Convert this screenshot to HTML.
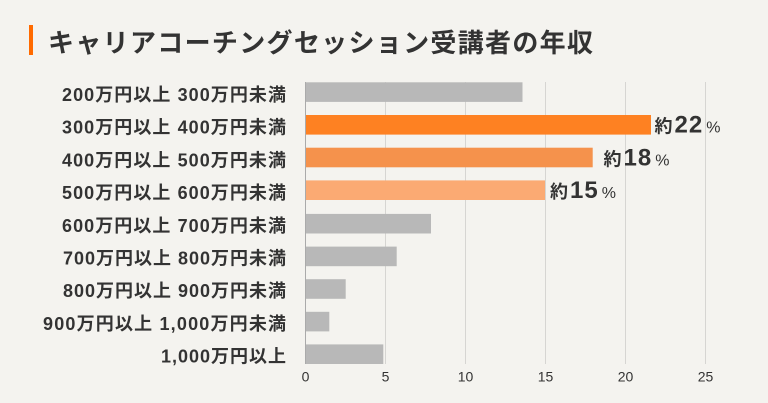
<!DOCTYPE html>
<html><head><meta charset="utf-8"><style>
html,body{margin:0;padding:0;background:#f4f3ef;}
svg{display:block;}
text{font-family:"Liberation Sans","Noto Sans CJK JP",sans-serif;}
</style></head><body>
<svg width="768" height="403" viewBox="0 0 768 403" xmlns="http://www.w3.org/2000/svg">
<rect width="768" height="403" fill="#f4f3ef"/>
<rect x="29" y="25" width="4" height="30" fill="#ff6a00"/>
<text x="48" y="52" font-size="26" font-weight="bold" fill="#333" textLength="545" lengthAdjust="spacing">キャリアコーチングセッション受講者の年収</text>
<g stroke="#d6d5d2" stroke-width="1">
<line x1="385.5" y1="82" x2="385.5" y2="364"/>
<line x1="465.5" y1="82" x2="465.5" y2="364"/>
<line x1="545.5" y1="82" x2="545.5" y2="364"/>
<line x1="625.5" y1="82" x2="625.5" y2="364"/>
<line x1="705.5" y1="82" x2="705.5" y2="364"/>
</g>
<g>
<rect x="305.5" y="82.3" width="217" height="19.6" fill="#b8b8b8"/>
<rect x="305.5" y="115" width="345.5" height="19.6" fill="#fe8122"/>
<rect x="305.5" y="147.7" width="287.2" height="19.6" fill="#f5924c"/>
<rect x="305.5" y="180.4" width="239.5" height="19.6" fill="#fbaa73"/>
<rect x="305.5" y="213.9" width="125.5" height="19.6" fill="#b8b8b8"/>
<rect x="305.5" y="246.6" width="91.2" height="19.6" fill="#b8b8b8"/>
<rect x="305.5" y="279.2" width="40.2" height="19.6" fill="#b8b8b8"/>
<rect x="305.5" y="311.8" width="23.8" height="19.6" fill="#b8b8b8"/>
<rect x="305.5" y="344.4" width="77.8" height="19.6" fill="#b8b8b8"/>
</g>
<line x1="305.5" y1="82" x2="305.5" y2="364" stroke="#aaa" stroke-width="1"/>
<g font-size="18" font-weight="bold" fill="#333" text-anchor="end">
<text x="286" y="101" textLength="224" lengthAdjust="spacing">200万円以上 300万円未満</text>
<text x="286" y="133.7" textLength="224" lengthAdjust="spacing">300万円以上 400万円未満</text>
<text x="286" y="166.4" textLength="224" lengthAdjust="spacing">400万円以上 500万円未満</text>
<text x="286" y="199.1" textLength="224" lengthAdjust="spacing">500万円以上 600万円未満</text>
<text x="286" y="231.8" textLength="224" lengthAdjust="spacing">600万円以上 700万円未満</text>
<text x="286" y="264.5" textLength="223" lengthAdjust="spacing">700万円以上 800万円未満</text>
<text x="286" y="297.2" textLength="223" lengthAdjust="spacing">800万円以上 900万円未満</text>
<text x="286" y="329.9" textLength="243" lengthAdjust="spacing">900万円以上 1,000万円未満</text>
<text x="286" y="362.6" textLength="125" lengthAdjust="spacing">1,000万円以上</text>
</g>
<g fill="#333" font-weight="bold">
<text x="654.5" y="132.7"><tspan font-size="18">約</tspan><tspan font-size="24" dx="2" letter-spacing="1">22</tspan><tspan font-size="16" font-weight="normal" dx="3">%</tspan></text>
<text x="603.5" y="165.4"><tspan font-size="18">約</tspan><tspan font-size="24" dx="2" letter-spacing="1">18</tspan><tspan font-size="16" font-weight="normal" dx="3">%</tspan></text>
<text x="550" y="198.1"><tspan font-size="18">約</tspan><tspan font-size="24" dx="2" letter-spacing="1">15</tspan><tspan font-size="16" font-weight="normal" dx="3">%</tspan></text>
</g>
<g font-size="14" fill="#333" text-anchor="middle">
<text x="305.5" y="381.7">0</text>
<text x="385.5" y="381.7">5</text>
<text x="465.5" y="381.7">10</text>
<text x="545.5" y="381.7">15</text>
<text x="625.5" y="381.7">20</text>
<text x="705.5" y="381.7">25</text>
</g>
</svg>
</body></html>
